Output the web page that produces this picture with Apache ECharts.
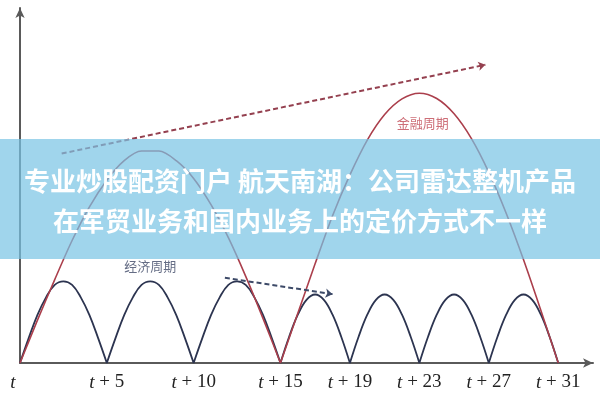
<!DOCTYPE html>
<html>
<head>
<meta charset="utf-8">
<script src="https://cdn.jsdelivr.net/npm/echarts@6/dist/echarts.min.js"></script>
<style>html,body{margin:0;padding:0;background:#fff;}#c{width:600px;height:400px;}</style>
</head>
<body>
<div id="c"></div>
<script>
// x-axis tick positions and labels
const tickValues = [0, 5, 10, 15, 19, 23, 27, 31];
const tickLabels = ['t', 't + 5', 't + 10', 't + 15', 't + 19', 't + 23', 't + 27', 't + 31'];

// economic cycle arches: start, width and values read at 0.5 steps
const econStarts = [0, 5, 10, 15, 19, 23, 27];
const econShapeWide = [0, 7, 13.5, 18.5, 22, 23, 22, 18.5, 13.5, 7, 0];   // 5-wide arches
const econShapeNarrow = [0, 7.4, 13.6, 17.8, 19.3, 17.8, 13.6, 7.4, 0];   // 4-wide arches

// financial cycle arches: x positions and values
const fin1X = [0, 1, 2, 3, 4, 5, 6, 7, 8, 9, 10, 11, 12, 13, 14, 15];
const fin1V = [0, 12, 23.5, 34.5, 44, 51.5, 57, 59.7, 59.7, 57, 52, 44.6, 35.3, 24.4, 12.5, 0];
const fin2X = [15, 16, 17, 18, 19, 20, 21, 22, 23, 24, 25, 26, 27, 28, 29, 30, 31];
const fin2V = [0, 14, 28, 41.5, 53, 62.8, 70, 74.4, 76, 74.5, 70.2, 63.2, 53.7, 42.2, 29.1, 14.8, 0];

// dashed trend arrows
const finArrow = [[2.4, 59], [26.8, 84]];
const econArrow = [[11.8, 24], [18, 19.4]];

// annotation labels
const finLabel = { text: '金融周期', pos: [23.2, 67.5] };
const econLabel = { text: '经济周期', pos: [7.5, 27.3] };

const bannerLines = ['专业炒股配资门户 航天南湖：公司雷达整机产品', '在军贸业务和国内业务上的定价方式不一样'];

// build series data
const econData = [];
econStarts.forEach((s, k) => {
  const shape = k < 3 ? econShapeWide : econShapeNarrow;
  shape.forEach((v, i) => econData.push([s + i * 0.5, v]));
  econData.push(['-', '-']);
});
const finData = [];
fin1X.forEach((x, i) => finData.push([x, fin1V[i]]));
finData.push(['-', '-']);
fin2X.forEach((x, i) => finData.push([x, fin2V[i]]));

const chart = echarts.init(document.getElementById('c'));
chart.setOption({
  animation: false,
  grid: { left: 20, right: 7, top: 8, bottom: 37 },
  xAxis: {
    type: 'value', min: 0, max: 33, interval: 1,
    splitLine: { show: false },
    axisTick: { show: false },
    axisLine: { lineStyle: { color: '#5a5a5a', width: 2 }, symbol: ['none', 'arrow'], symbolSize: [7, 10] },
    axisLabel: {
      margin: 10,
      showMinLabel: true, showMaxLabel: true,
      formatter: function (v) {
        const idx = tickValues.indexOf(v);
        if (idx < 0) return '';
        const lab = tickLabels[idx];
        if (idx === 0) return '{o|t}';
        return '{i|t}{n|' + lab.slice(1) + '}';
      },
      rich: {
        o: { fontFamily: 'Liberation Serif', fontStyle: 'italic', fontSize: 19, color: '#222', padding: [0, 14, 0, 0] },
        i: { fontFamily: 'Liberation Serif', fontStyle: 'italic', fontSize: 19, color: '#222' },
        n: { fontFamily: 'Liberation Serif', fontSize: 19, color: '#222' }
      }
    }
  },
  yAxis: {
    type: 'value', min: 0, max: 100,
    splitLine: { show: false },
    axisTick: { show: false },
    axisLabel: { show: false },
    axisLine: { show: true, lineStyle: { color: '#5a5a5a', width: 2 }, symbol: ['none', 'arrow'], symbolSize: [7, 10] }
  },
  series: [
    {
      type: 'line', data: econData, smooth: 0.4, showSymbol: false, connectNulls: false,
      lineStyle: { color: '#2c3450', width: 1.8 }, z: 3,
      markLine: {
        silent: true, symbol: ['none', 'arrow'], symbolSize: 7,
        lineStyle: { type: [5, 3], color: '#3d4a68', width: 2 },
        label: { show: false },
        data: [[{ coord: econArrow[0] }, { coord: econArrow[1] }]]
      }
    },
    {
      type: 'line', data: finData, smooth: 0.3, showSymbol: false, connectNulls: false,
      lineStyle: { color: '#ab3f4c', width: 1.6 }, z: 4,
      markLine: {
        silent: true, symbol: ['none', 'arrow'], symbolSize: 7,
        lineStyle: { type: [5, 3], color: '#94404f', width: 2 },
        label: { show: false },
        data: [[{ coord: finArrow[0] }, { coord: finArrow[1] }]]
      }
    },
    {
      type: 'scatter', symbolSize: 1, itemStyle: { color: 'transparent' }, silent: true,
      data: [
        { value: finLabel.pos, label: { show: true, position: 'inside', formatter: finLabel.text, color: '#c04a55', fontSize: 13, fontFamily: 'Noto Sans CJK SC' } },
        { value: econLabel.pos, label: { show: true, position: 'inside', formatter: econLabel.text, color: '#3e4866', fontSize: 13, fontFamily: 'Noto Sans CJK SC' } }
      ]
    }
  ],
  graphic: [
    { type: 'rect', left: 0, top: 139, z: 100, shape: { width: 600, height: 120 }, style: { fill: 'rgba(120,195,228,0.7)' } },
    { type: 'text', left: 'center', top: 168, z: 101, style: { text: bannerLines[0], fill: '#ffffff', font: 'bold 26px "Noto Sans CJK SC"' } },
    { type: 'text', left: 'center', top: 208, z: 101, style: { text: bannerLines[1], fill: '#ffffff', font: 'bold 26px "Noto Sans CJK SC"' } }
  ]
});
</script>
</body>
</html>
